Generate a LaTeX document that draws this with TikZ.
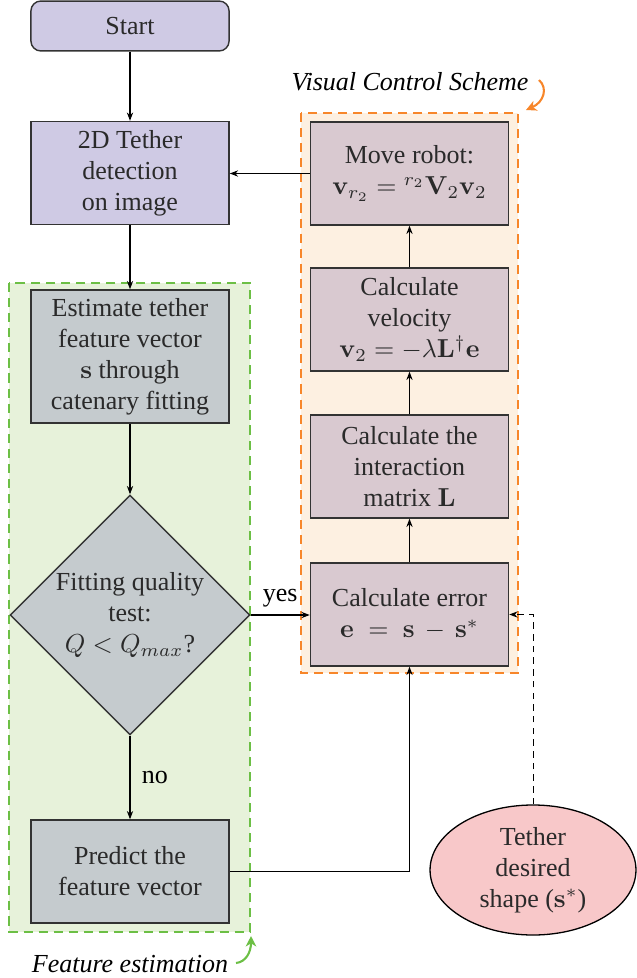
\documentclass[tikz,border=0pt]{standalone}
\usepackage[no-math]{fontspec}
\setmainfont{Liberation Serif}
\usetikzlibrary{shapes.geometric,arrows.meta}
\definecolor{lav}{HTML}{CFCAE4}
\definecolor{greybox}{HTML}{C5CBCE}
\definecolor{mauve}{HTML}{D9C9D0}
\definecolor{pinkell}{HTML}{F8C8C9}
\definecolor{gfill}{HTML}{E7F2DA}
\definecolor{gdash}{HTML}{6CBF45}
\definecolor{ofill}{HTML}{FDF0E1}
\definecolor{odash}{HTML}{F7862A}
\definecolor{boxline}{HTML}{333333}
\definecolor{txt}{HTML}{2A2A2A}
\begin{document}
\begin{tikzpicture}[x=0.3846pt,y=-0.3846pt,
  font=\fontsize{10}{11.9}\selectfont,
  box/.style={draw=boxline, line width=0.55pt, text=txt, align=center,
    minimum width=76.2pt, minimum height=39.6pt, inner sep=0pt},
  arr/.style={-{Stealth[length=3.2pt,width=2.4pt]}, line width=0.4pt},
  region/.style={line width=0.95pt, dash pattern=on 3.5pt off 2.3pt},
  callout/.style={line width=0.8pt, -{Stealth[length=4pt,width=4pt,inset=1.2pt]}}]
\useasboundingbox (0,0) rectangle (636,978);
% regions
\fill[gfill] (9,283) rectangle (250,932);
\draw[region, gdash] (9,283) rectangle (250,932);
\fill[ofill] (301,113) rectangle (518,673);
\draw[region, odash] (301,113) rectangle (518,673);
% left column
\node[box, fill=lav, rounded corners=3.8pt, minimum height=19.2pt] (start) at (130,26) {Start};
\node[box, fill=lav] (det) at (130,173) {2D Tether\\detection\\on image};
\node[box, fill=greybox, minimum height=51.2pt] (est) at (130,356.5) {Estimate tether\\feature vector\\$\mathbf{s}$ through\\catenary fitting};
\node[draw=boxline, line width=0.55pt, fill=greybox, text=txt, align=center, diamond, inner sep=0pt, minimum width=92.3pt, minimum height=92.3pt] (dia) at (130,615) {Fitting quality\\test:\\$Q<Q_{max}$?};
\node[box, fill=greybox] (pred) at (130,871.5) {Predict the\\feature vector};
% right column
\node[box, fill=mauve] (move) at (409.5,173.5) {Move robot:\\$\mathbf{v}_{r_2} = {}^{r_2}\mathbf{V}_2\mathbf{v}_2$};
\node[box, fill=mauve] (vel) at (409.5,319.5) {Calculate\\velocity\\$\mathbf{v}_2 = -\lambda\mathbf{L}^{\dagger}\mathbf{e}$};
\node[box, fill=mauve] (inter) at (409.5,466.5) {Calculate the\\interaction\\matrix $\mathbf{L}$};
\node[box, fill=mauve] (err) at (409.5,614.5) {Calculate error\\$\mathbf{e} \;=\; \mathbf{s} \,-\, \mathbf{s}^{*}$};
\node[draw=black, line width=0.5pt, fill=pinkell, text=txt, align=center, ellipse, inner sep=0pt, minimum width=79.2pt, minimum height=50pt] (des) at (533,870) {Tether\\desired\\shape ($\mathbf{s}^{*}$)};
% labels
\node (vcs) at (410,82) {\itshape Visual Control Scheme};
\node (fe) at (130,964) {\itshape Feature estimation};
\coordinate (vcsA) at (539,80);
\coordinate (vcsB) at (526,110);
\coordinate (feA) at (236,963);
\coordinate (feB) at (251,936);
\draw[callout, odash] (vcsA) .. controls (548,88) and (544,102) .. (vcsB);
\draw[callout, gdash] (feA) .. controls (246,962) and (251,952) .. (feB);
% connectors
\draw[arr] (start) -- (det);
\draw[arr] (det) -- (est);
\draw[arr] (est) -- (dia);
\draw[arr] (dia) -- node[right=1pt, text=black] (no) {no} (pred);
\draw[arr] (dia.east) -- node[above=-0.5pt, text=black] (yes) {yes} (dia.east -| err.west);
\draw[arr] (pred.east) -| (err.south);
\draw[arr] (err) -- (inter);
\draw[arr] (inter) -- (vel);
\draw[arr] (vel) -- (move);
\draw[arr] (move.west) -- (move.west -| det.east);
\draw[arr, line width=0.35pt, dash pattern=on 2.5pt off 2pt] (des.north) |- (err.east);
\end{tikzpicture}
\end{document}
